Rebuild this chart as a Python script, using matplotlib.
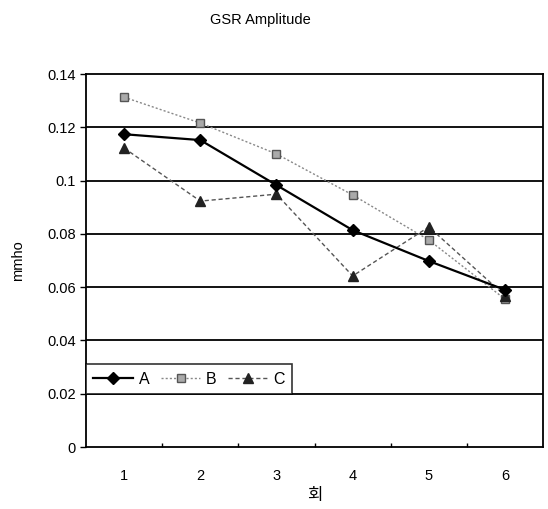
import matplotlib
matplotlib.use("Agg")
import matplotlib.pyplot as plt
from matplotlib.ticker import FixedLocator

plt.rcParams['font.family'] = ['Liberation Sans', 'Noto Sans CJK KR', 'DejaVu Sans']

sessions = [1, 2, 3, 4, 5, 6]
series_a = [0.1174, 0.1152, 0.0983, 0.0814, 0.0698, 0.0590]
series_b = [0.1313, 0.1216, 0.1100, 0.0946, 0.0777, 0.0555]
series_c = [0.1122, 0.0923, 0.0949, 0.0642, 0.0826, 0.0568]
y_ticks = [0, 0.02, 0.04, 0.06, 0.08, 0.1, 0.12, 0.14]
y_tick_labels = ["0", "0.02", "0.04", "0.06", "0.08", "0.1", "0.12", "0.14"]

fig = plt.figure(figsize=(5.48, 5.09), dpi=100)
ax = fig.add_axes([0.157, 0.1218, 0.834, 0.7328])

for y in y_ticks[1:-1]:
    ax.axhline(y, color='black', lw=1.3, zorder=1)

ax.plot(sessions, series_a, color='black', lw=1.6, marker='D', ms=6, label='A', zorder=4)
ax.plot(sessions, series_b, color='#888888', lw=1.0, ls=(0, (1.5, 1.5)), marker='s', ms=6,
        markerfacecolor='#aaaaaa', markeredgecolor='#555555', label='B', zorder=3)
ax.plot(sessions, series_c, color='#555555', lw=1.0, ls=(0, (3, 2)), marker='^', ms=7,
        markerfacecolor='#222222', markeredgecolor='#222222', label='C', zorder=3)

ax.set_xlim(0.5, 6.5)
ax.set_ylim(0, 0.14)
ax.set_yticks(y_ticks)
ax.set_yticklabels(y_tick_labels, fontsize=10.5)
ax.set_xticks(sessions)
ax.set_xticklabels([str(s) for s in sessions], fontsize=10.5)
ax.tick_params(axis='x', which='major', length=0, pad=16)
ax.xaxis.set_minor_locator(FixedLocator([1.5, 2.5, 3.5, 4.5, 5.5]))
ax.tick_params(axis='x', which='minor', direction='in', length=3, width=1)
ax.tick_params(axis='y', which='major', direction='out', length=4, width=1)

for sp in ax.spines.values():
    sp.set_linewidth(1.3)
    sp.set_color('black')

ax.set_ylabel('mmho', fontsize=10.5, labelpad=16)
ax.set_xlabel('회', fontsize=12, labelpad=3, family=['Noto Sans CJK KR'])
fig.text(0.475, 0.96, 'GSR Amplitude', ha='center', va='center', fontsize=10.5)

leg = ax.legend(loc='lower left', bbox_to_anchor=(0.0, 0.1429), ncol=3, frameon=True,
                fancybox=False, edgecolor='black', fontsize=11.5, handlelength=2.5,
                handletextpad=0.35, columnspacing=0.7, borderpad=0.45, borderaxespad=0)
leg.get_frame().set_linewidth(1.2)

fig.savefig('out.png', dpi=100)
